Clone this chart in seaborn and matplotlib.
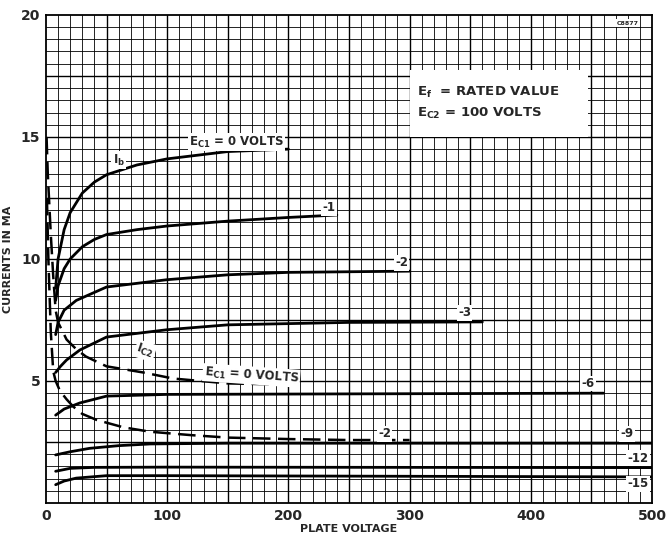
import numpy as np
import pandas as pd
import seaborn as sns
import matplotlib
matplotlib.use('Agg')
import matplotlib.pyplot as plt
from matplotlib.patches import Rectangle

# plate current Ib curves, one per grid bias Ec1
ib_0 = ([8, 10, 15, 20, 30, 40, 50, 75, 100, 150, 200],
        [8.8, 10.0, 11.2, 11.9, 12.7, 13.15, 13.45, 13.85, 14.1, 14.4, 14.5])
ib_1 = ([8, 10, 15, 20, 30, 40, 50, 75, 100, 150, 200, 240],
        [8.3, 8.9, 9.6, 10.0, 10.5, 10.8, 11.0, 11.2, 11.35, 11.55, 11.7, 11.8])
ib_2 = ([8, 10, 15, 25, 50, 100, 150, 200, 300],
        [6.9, 7.4, 7.9, 8.3, 8.85, 9.15, 9.35, 9.45, 9.5])
ib_3 = ([8, 12, 17, 28, 50, 100, 150, 250, 360],
        [5.35, 5.6, 5.86, 6.27, 6.8, 7.1, 7.3, 7.4, 7.42])
ib_6 = ([8, 15, 28, 50, 100, 460],
        [3.6, 3.85, 4.1, 4.38, 4.45, 4.5])
ib_9 = ([8, 20, 36, 60, 86, 150, 500],
        [1.97, 2.1, 2.24, 2.35, 2.42, 2.45, 2.45])
ib_12 = ([8, 20, 40, 100, 500],
         [1.3, 1.42, 1.46, 1.47, 1.45])
ib_15 = ([8, 15, 25, 50, 100, 500],
         [0.75, 0.9, 1.02, 1.12, 1.12, 1.07])

# screen current Ic2 (dashed)
ic2_0 = ([0.5, 1.5, 4, 6, 8, 10, 17, 25, 33, 50, 80, 105, 150, 200],
         [15.0, 13.5, 11.0, 9.3, 7.9, 7.4, 6.7, 6.3, 6.0, 5.6, 5.35, 5.1, 4.9, 4.85])
ic2_2 = ([0.8, 2, 4, 6, 8, 11.5, 17, 22.5, 30, 42, 64, 86, 120, 150, 200, 250, 300],
         [12.5, 10.0, 7.0, 5.4, 5.0, 4.6, 4.25, 3.95, 3.65, 3.4, 3.1, 2.92, 2.78, 2.68, 2.62, 2.58, 2.58])

x_ticks = [0, 100, 200, 300, 400, 500]
y_ticks = [5, 10, 15, 20]

sns.set_style('white')
plt.rcParams['font.family'] = ['DejaVu Sans']
plt.rcParams['font.weight'] = 'bold'
plt.rcParams['axes.labelweight'] = 'bold'
plt.rcParams['mathtext.default'] = 'bf'

fig = plt.figure(figsize=(6.66, 5.37), dpi=100)
ax = fig.add_axes([0.069, 0.0633, 0.910, 0.909])

# graph paper grid
for gx in np.arange(10, 500, 10):
    ax.axvline(gx, color='black', lw=1.0 if gx % 50 == 0 else 0.6, zorder=1)
for gy in np.arange(0.5, 20, 0.5):
    ax.axhline(gy, color='black', lw=1.0 if gy % 2.5 == 0 else 0.6, zorder=1)

for xs, ys in [ib_0, ib_1, ib_2, ib_3, ib_6, ib_9, ib_12, ib_15]:
    sns.lineplot(x=xs, y=ys, ax=ax, color='black', lw=2.0, sort=False,
                 estimator=None, zorder=3)
for xs, ys in [ic2_0, ic2_2]:
    sns.lineplot(x=xs, y=ys, ax=ax, color='black', lw=1.8, sort=False,
                 estimator=None, zorder=3, linestyle=(0, (7, 3)))

ax.set_xlim(0, 500)
ax.set_ylim(0, 20)
ax.set_xticks(x_ticks)
ax.set_yticks(y_ticks)
ax.tick_params(length=0, labelsize=10, pad=4)
for s in ax.spines.values():
    s.set_color('black')
    s.set_linewidth(1.3)
ax.set_xlabel('PLATE VOLTAGE', fontsize=8, labelpad=1)
ax.set_ylabel('CURRENTS IN MA', fontsize=8, labelpad=6)

wb = dict(facecolor='white', edgecolor='none', pad=1.0)
fs = 8.5
ax.text(118, 14.65, r'E$_{C1}$ = 0 VOLTS', fontsize=fs, bbox=wb, zorder=4)
ax.text(55, 13.9, r'I$_{b}$', fontsize=fs, bbox=wb, zorder=4)
ax.text(228, 11.95, '-1', fontsize=fs, bbox=wb, zorder=4)
ax.text(288, 9.7, '-2', fontsize=fs, bbox=wb, zorder=4)
ax.text(340, 7.65, '-3', fontsize=fs, bbox=wb, zorder=4)
ax.text(442, 4.75, '-6', fontsize=fs, bbox=wb, zorder=4)
ax.text(73, 6.0, r'I$_{C2}$', fontsize=fs, rotation=-18, bbox=wb, zorder=4)
ax.text(130, 4.95, r'E$_{C1}$ = 0 VOLTS', fontsize=fs, rotation=-4, bbox=wb, zorder=4)
ax.text(274, 2.7, '-2', fontsize=fs, bbox=wb, zorder=4)
ax.text(474, 2.7, '-9', fontsize=fs, bbox=wb, zorder=4)
ax.text(480, 1.7, '-12', fontsize=fs, bbox=wb, zorder=4)
ax.text(480, 0.65, '-15', fontsize=fs, bbox=wb, zorder=4)

ax.add_patch(Rectangle((300, 15.0), 147, 2.75, facecolor='white',
                       edgecolor='none', zorder=2))
ax.text(306, 16.7, r'E$_{f}$  = RATED VALUE', fontsize=9.5, zorder=4)
ax.text(306, 15.8, r'E$_{C2}$ = 100 VOLTS', fontsize=9.5, zorder=4)
ax.text(471, 19.6, 'C8877', fontsize=4.5, bbox=wb, zorder=4)

fig.savefig('out.png', dpi=100)
